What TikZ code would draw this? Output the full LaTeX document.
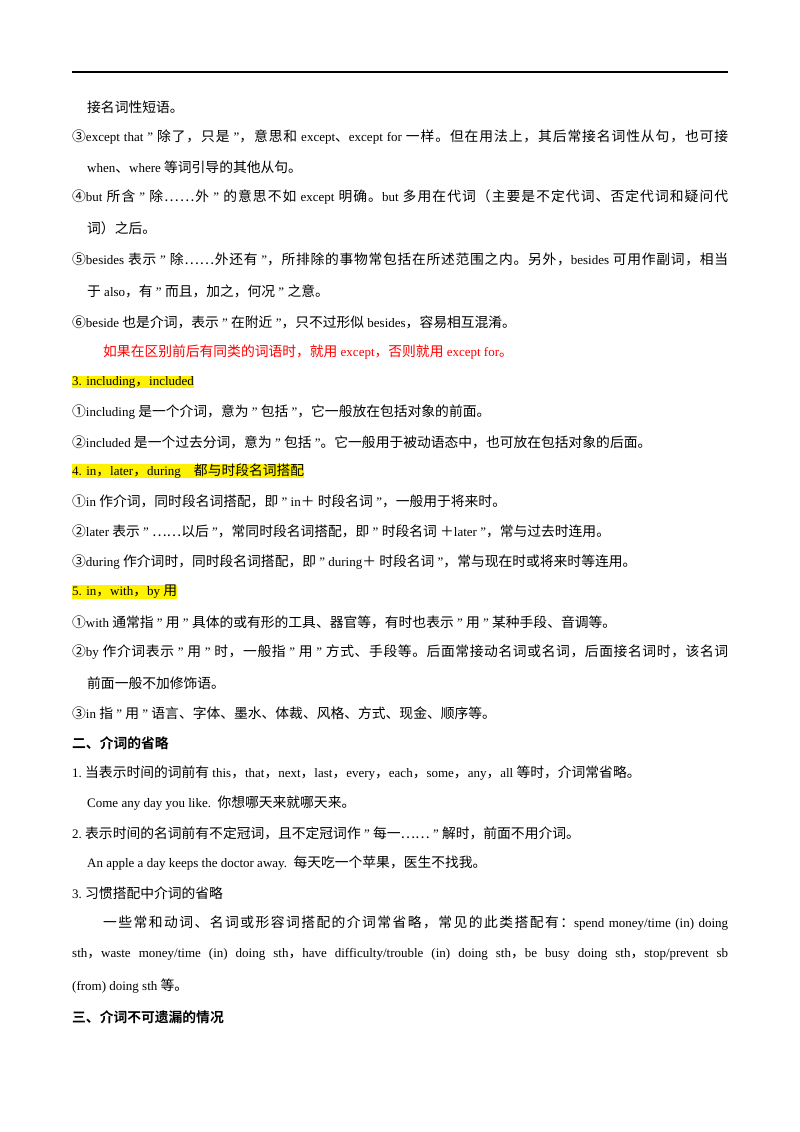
\documentclass[tikz,border=0pt]{standalone}
\usepackage{fontspec}
\defaultfontfeatures{}
\setmainfont{Liberation Serif}
\newfontfamily\cjk{Noto Sans CJK SC}[BoldFont={* Bold},Scale=1.06]
\newXeTeXintercharclass\cjkclass
\makeatletter
\count@="3000 \loop\ifnum\count@<"3040 \XeTeXcharclass\count@=\cjkclass \advance\count@ 1 \repeat
\count@="4E00 \loop\ifnum\count@<"A000 \XeTeXcharclass\count@=\cjkclass \advance\count@ 1 \repeat
\count@="FF00 \loop\ifnum\count@<"FF60 \XeTeXcharclass\count@=\cjkclass \advance\count@ 1 \repeat
\count@="2460 \loop\ifnum\count@<"2470 \XeTeXcharclass\count@=\cjkclass \advance\count@ 1 \repeat
\XeTeXcharclass"2026=\cjkclass
\makeatother
\XeTeXinterchartokenstate=1
\XeTeXinterchartoks 0 \cjkclass = {\begingroup\cjk}
\XeTeXinterchartoks 4095 \cjkclass = {\begingroup\cjk}
\XeTeXinterchartoks \cjkclass 0 = {\endgroup}
\XeTeXinterchartoks \cjkclass 4095 = {\endgroup}
\XeTeXinterchartoks \cjkclass \cjkclass = {\hskip0pt plus 2pt\relax}
\newcommand{\fl}[2]{\makebox[#1pt][s]{#2}}
\newcommand{\qq}{{\char34}}
\begin{document}
\begin{tikzpicture}[x=1pt,y=-1pt,
  tl/.style={anchor=west,inner sep=0pt,font=\fontsize{13}{13}\selectfont},
  hl/.style={tl,fill=yellow},
  hd/.style={tl,font=\fontsize{13}{13}\selectfont\bfseries}]
\useasboundingbox (0,0) rectangle (800,1132);
\fill[white] (0,0) rectangle (800,1132);
\coordinate (r1) at (72,72); \coordinate (r2) at (728,72);
\draw[line width=1.2pt] (r1) -- (r2);
\node[tl] (l1) at (87,107) {接名词性短语。};
\node[tl] (l2) at (72,137) {\fl{656}{③except that \qq{} 除了，只是 \qq{}，意思和 except、except for 一样。但在用法上，其后常接名词性从句，也可接}};
\node[tl] (l3) at (87,167) {when、where 等词引导的其他从句。};
\node[tl] (l4) at (72,197) {\fl{656}{④but 所含 \qq{} 除……外 \qq{} 的意思不如 except 明确。but 多用在代词（主要是不定代词、否定代词和疑问代}};
\node[tl] (l5) at (87,228) {词）之后。};
\node[tl] (l6) at (72,259) {\fl{656}{⑤besides 表示 \qq{} 除……外还有 \qq{}，所排除的事物常包括在所述范围之内。另外，besides 可用作副词，相当}};
\node[tl] (l7) at (87,291) {于 also，有 \qq{} 而且，加之，何况 \qq{} 之意。};
\node[tl] (l8) at (72,322) {⑥beside 也是介词，表示 \qq{} 在附近 \qq{}，只不过形似 besides，容易相互混淆。};
\node[tl,text=red] (l9) at (103,352) {如果在区别前后有同类的词语时，就用 except，否则就用 except for。};
\node[hl] (h3) at (72,382) {3. including，included};
\node[tl] (l10) at (72,412) {①including 是一个介词，意为 \qq{} 包括 \qq{}，它一般放在包括对象的前面。};
\node[tl] (l11) at (72,442) {②included 是一个过去分词，意为 \qq{} 包括 \qq{}。它一般用于被动语态中，也可放在包括对象的后面。};
\node[hl] (h4) at (72,471) {4. in，later，during\quad 都与时段名词搭配};
\node[tl] (l12) at (72,501) {①in 作介词，同时段名词搭配，即 \qq{} in＋ 时段名词 \qq{}，一般用于将来时。};
\node[tl] (l13) at (72,531) {②later 表示 \qq{} ……以后 \qq{}，常同时段名词搭配，即 \qq{} 时段名词 ＋later \qq{}，常与过去时连用。};
\node[tl] (l14) at (72,562) {③during 作介词时，同时段名词搭配，即 \qq{} during＋ 时段名词 \qq{}，常与现在时或将来时等连用。};
\node[hl] (h5) at (72,592) {5. in，with，by 用};
\node[tl] (l15) at (72,622) {①with 通常指 \qq{} 用 \qq{} 具体的或有形的工具、器官等，有时也表示 \qq{} 用 \qq{} 某种手段、音调等。};
\node[tl] (l16) at (72,652) {\fl{656}{②by 作介词表示 \qq{} 用 \qq{} 时，一般指 \qq{} 用 \qq{} 方式、手段等。后面常接动名词或名词，后面接名词时，该名词}};
\node[tl] (l17) at (87,683) {前面一般不加修饰语。};
\node[tl] (l18) at (72,713) {③in 指 \qq{} 用 \qq{} 语言、字体、墨水、体裁、风格、方式、现金、顺序等。};
\node[hd] (h6) at (72,743) {二、介词的省略};
\node[tl] (l19) at (72,773) {1.\ 当表示时间的词前有 this，that，next，last，every，each，some，any，all 等时，介词常省略。};
\node[tl] (l20) at (87,803) {Come any day you like.\ \ 你想哪天来就哪天来。};
\node[tl] (l21) at (72,833) {2.\ 表示时间的名词前有不定冠词，且不定冠词作 \qq{} 每一…… \qq{} 解时，前面不用介词。};
\node[tl] (l22) at (87,863) {An apple a day keeps the doctor away.\ \ 每天吃一个苹果，医生不找我。};
\node[tl] (l23) at (72,893) {3.\ 习惯搭配中介词的省略};
\node[tl] (l24) at (103,923) {\fl{625}{一些常和动词、名词或形容词搭配的介词常省略，常见的此类搭配有：spend money/time (in) doing}};
\node[tl] (l25) at (72,954) {\fl{656}{sth，waste money/time (in) doing sth，have difficulty/trouble (in) doing sth，be busy doing sth，stop/prevent sb}};
\node[tl] (l26) at (72,986) {(from) doing sth 等。};
\node[hd] (h7) at (72,1017) {三、介词不可遗漏的情况};
\end{tikzpicture}
\end{document}
